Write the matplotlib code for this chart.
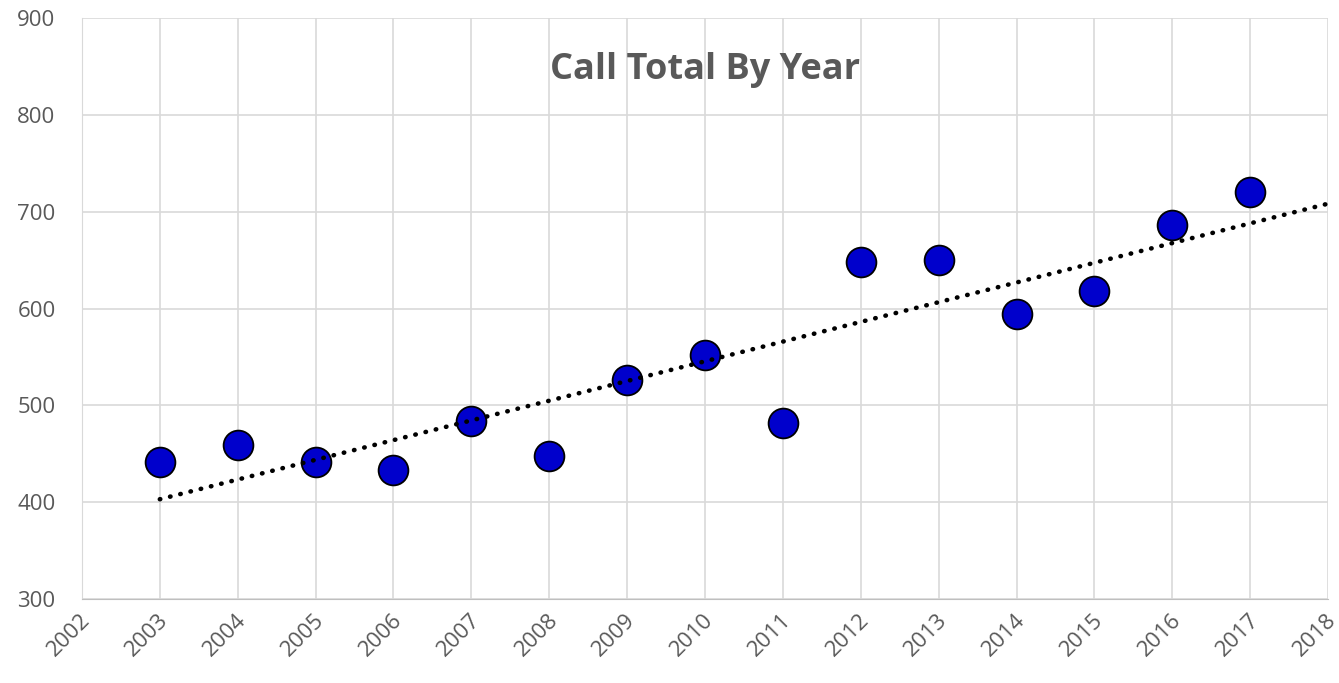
import numpy as np
import matplotlib.pyplot as plt
from matplotlib.transforms import ScaledTranslation

plt.rcParams['font.family'] = ['Open Sans', 'DejaVu Sans']

# data
years = [2003, 2004, 2005, 2006, 2007, 2008, 2009, 2010,
         2011, 2012, 2013, 2014, 2015, 2016, 2017]
calls = [441, 459, 441, 433, 484, 448, 526, 552,
         482, 648, 650, 594, 618, 686, 720]
title = "Call Total By Year"

fig = plt.figure(figsize=(13.39, 6.83), dpi=100)
ax = fig.add_axes([0.0612, 0.123, 0.9306, 0.8506])

ax.scatter(years, calls, s=460, color='#0000CC', edgecolor='black',
           linewidth=1.3, zorder=3)

# linear trendline, forecast forward one year
coef = np.polyfit(years, calls, 1)
tx = np.array([years[0], years[-1] + 1])
ax.plot(tx, np.polyval(coef, tx), color='black', lw=3.3,
        linestyle=(0, (0.1, 2.2)), dash_capstyle='round', zorder=4)

ax.set_xlim(2002, 2018)
ax.set_ylim(300, 900)
ax.set_xticks(range(2002, 2019))
ax.set_yticks(range(300, 901, 100))
ax.grid(True, color='#d9d9d9', lw=1.2)
ax.set_axisbelow(True)
for s in ['top', 'right']:
    ax.spines[s].set_visible(False)
ax.spines['left'].set_color('#d9d9d9')
ax.spines['bottom'].set_color('#bfbfbf')
ax.tick_params(length=0, labelsize=16, colors='#595959')
ax.tick_params(axis='y', pad=19)
ax.tick_params(axis='x', pad=8)
shift = ScaledTranslation(-2 / 100, 0, fig.dpi_scale_trans)
for lab in ax.get_xticklabels():
    lab.set_rotation(45)
    lab.set_ha('right')
    lab.set_rotation_mode('anchor')
    lab.set_transform(lab.get_transform() + shift)

ax.text(0.5, 0.91, title, transform=ax.transAxes, ha='center', va='center',
        fontsize=26, fontweight='bold', color='#595959')

fig.savefig('out.png')
